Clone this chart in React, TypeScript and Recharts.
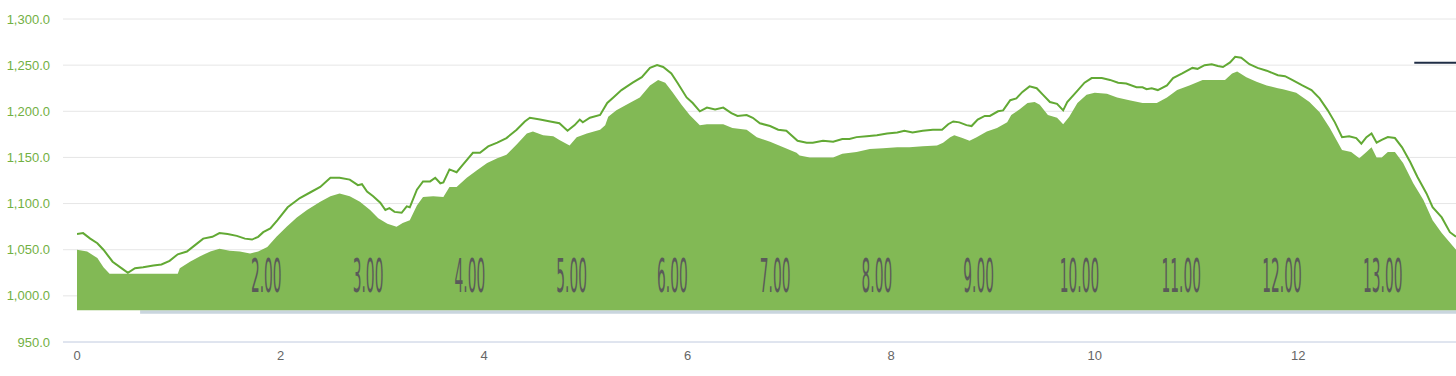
import React from 'react';
import {
  ComposedChart,
  Area,
  Line,
  XAxis,
  YAxis,
  CartesianGrid,
  ReferenceArea,
  ReferenceLine,
  ReferenceDot,
} from 'recharts';

// upper profile line (km, m)
const lineKm = [
  0, 0.06, 0.13, 0.2, 0.26, 0.35, 0.45, 0.5, 0.57, 0.65, 0.75, 0.83, 0.91, 0.99, 1.08, 1.16, 1.24, 1.33,
  1.4, 1.48, 1.57, 1.65, 1.72, 1.78, 1.83, 1.9, 1.97, 2.07, 2.19, 2.29, 2.39, 2.49, 2.58, 2.68, 2.76,
  2.8, 2.85, 2.91, 2.98, 3.03, 3.07, 3.12, 3.19, 3.24, 3.27, 3.34, 3.4, 3.47, 3.52, 3.57, 3.6, 3.66,
  3.73, 3.79, 3.89, 3.96, 4.04, 4.13, 4.22, 4.32, 4.4, 4.45, 4.55, 4.65, 4.74, 4.82, 4.89, 4.94, 4.97,
  5.04, 5.14, 5.21, 5.27, 5.35, 5.46, 5.55, 5.63, 5.7, 5.76, 5.84, 5.9, 5.99, 6.05, 6.12, 6.19, 6.27,
  6.35, 6.43, 6.49, 6.58, 6.64, 6.71, 6.81, 6.89, 6.97, 7.08, 7.17, 7.23, 7.33, 7.43, 7.52, 7.59, 7.66,
  7.76, 7.86, 7.96, 8.06, 8.13, 8.21, 8.31, 8.41, 8.5, 8.56, 8.61, 8.67, 8.74, 8.79, 8.85, 8.92, 8.97,
  9.05, 9.1, 9.17, 9.23, 9.29, 9.36, 9.43, 9.49, 9.56, 9.63, 9.69, 9.73, 9.82, 9.9, 9.97, 10.07, 10.15,
  10.23, 10.31, 10.41, 10.47, 10.51, 10.56, 10.62, 10.71, 10.77, 10.86, 10.96, 11.01, 11.08, 11.15,
  11.21, 11.26, 11.33, 11.38, 11.44, 11.52, 11.6, 11.69, 11.8, 11.87, 11.94, 12.04, 12.13, 12.21,
  12.29, 12.36, 12.43, 12.5, 12.57, 12.62, 12.67, 12.72, 12.77, 12.82, 12.88, 12.95, 13.02, 13.1,
  13.17, 13.26, 13.32, 13.41, 13.49, 13.55,
];
const lineElev = [
  1067, 1068, 1062, 1057, 1050, 1037, 1029, 1025, 1030, 1031, 1033, 1034, 1038, 1045, 1048, 1055, 1062, 1064,
  1068, 1067, 1065, 1062, 1061, 1064, 1069, 1073, 1082, 1096, 1106, 1112, 1118, 1128, 1128, 1126, 1120,
  1121, 1113, 1108, 1101, 1093, 1095, 1091, 1090, 1097, 1096, 1115, 1124, 1124, 1128, 1122, 1123, 1137,
  1134, 1142, 1155, 1155, 1162, 1166, 1171, 1180, 1189, 1193, 1191, 1189, 1187, 1179, 1185, 1191, 1188,
  1193, 1196, 1209, 1215, 1223, 1231, 1237, 1247, 1250, 1248, 1241, 1231, 1215, 1209, 1200, 1204, 1202,
  1204, 1198, 1195, 1196, 1193, 1187, 1184, 1180, 1179, 1168, 1166, 1166, 1168, 1167, 1170, 1170, 1172,
  1173, 1174, 1176, 1177, 1179, 1177, 1179, 1180, 1180, 1186, 1189, 1188, 1185, 1184, 1191, 1195, 1195,
  1200, 1201, 1212, 1214, 1221, 1227, 1225, 1218, 1210, 1208, 1201, 1210, 1221, 1231, 1236, 1236, 1234,
  1231, 1230, 1226, 1226, 1224, 1225, 1223, 1228, 1236, 1241, 1247, 1246, 1250, 1251,
  1249, 1248, 1253, 1259, 1258, 1251, 1247, 1244, 1239, 1238, 1234, 1228, 1223, 1214,
  1201, 1188, 1172, 1173, 1171, 1165, 1172, 1176, 1166, 1169, 1172, 1171, 1161, 1145,
  1129, 1111, 1096, 1085, 1069, 1064,
];

// filled terrain profile (km, m)
const areaKm = [
  0, 0.1, 0.2, 0.26, 0.32, 0.67, 0.99, 1.01, 1.11, 1.21, 1.31, 1.4, 1.5, 1.6, 1.7, 1.78, 1.87, 1.96,
  2.06, 2.16, 2.26, 2.39, 2.49, 2.58, 2.68, 2.78, 2.88, 2.96, 3.05, 3.14, 3.2, 3.27, 3.34, 3.4, 3.5,
  3.6, 3.66, 3.73, 3.83, 3.93, 4.03, 4.13, 4.22, 4.32, 4.42, 4.48, 4.58, 4.68, 4.74, 4.84, 4.91, 5.01,
  5.14, 5.19, 5.22, 5.3, 5.43, 5.53, 5.63, 5.71, 5.78, 5.85, 5.94, 6.02, 6.12, 6.19, 6.35, 6.44, 6.58,
  6.68, 6.81, 6.94, 7.07, 7.1, 7.2, 7.43, 7.52, 7.66, 7.79, 7.92, 8.06, 8.18, 8.31, 8.45, 8.51, 8.58,
  8.62, 8.7, 8.77, 8.84, 8.94, 9.04, 9.14, 9.18, 9.26, 9.34, 9.41, 9.46, 9.54, 9.63, 9.69, 9.75, 9.83,
  9.92, 10.0, 10.12, 10.22, 10.34, 10.47, 10.61, 10.71, 10.81, 10.93, 11.06, 11.2, 11.28, 11.35, 11.4,
  11.49, 11.59, 11.69, 11.8, 11.85, 11.98, 12.11, 12.21, 12.31, 12.43, 12.52, 12.6, 12.67, 12.72,
  12.77, 12.82, 12.88, 12.95, 13.03, 13.13, 13.23, 13.32, 13.41, 13.55,
];
const areaElev = [
  1050, 1048, 1041, 1031, 1024, 1024, 1024, 1030, 1037, 1043, 1048, 1051, 1049, 1048, 1046, 1048, 1053, 1064,
  1075, 1085, 1093, 1102, 1108, 1111, 1108, 1102, 1093, 1084, 1078, 1075, 1079, 1082, 1098, 1107, 1108,
  1107, 1118, 1118, 1128, 1136, 1144, 1149, 1153, 1164, 1176, 1178, 1174, 1173, 1169, 1163, 1172, 1176,
  1180, 1185, 1194, 1201, 1209, 1215, 1228, 1234, 1231, 1221, 1207, 1196, 1185, 1186, 1186, 1182, 1180,
  1172, 1167, 1161, 1155, 1152, 1150, 1150, 1154, 1156, 1159, 1160, 1161, 1161, 1162, 1163, 1166, 1172,
  1174, 1171, 1168, 1172, 1178, 1182, 1188, 1196, 1202, 1209, 1210, 1207, 1196, 1193, 1186, 1194, 1209,
  1218, 1220, 1219, 1215, 1212, 1209, 1209, 1215, 1223, 1228, 1234, 1234, 1234, 1241, 1243,
  1237, 1232, 1228, 1225, 1224, 1220, 1210, 1199, 1182, 1158, 1156, 1149, 1156, 1161,
  1150, 1150, 1156, 1156, 1144, 1122, 1104, 1082, 1068, 1050,
];

// hour markers printed inside the profile
const hourLabels = ['2.00', '3.00', '4.00', '5.00', '6.00', '7.00', '8.00', '9.00', '10.00', '11.00', '12.00', '13.00'];
const hourKm = [1.86, 2.86, 3.86, 4.86, 5.85, 6.86, 7.86, 8.86, 9.85, 10.85, 11.84, 12.83];

const yTicks = [950, 1000, 1050, 1100, 1150, 1200, 1250, 1300];
const xTicks = [0, 2, 4, 6, 8, 10, 12];

const lineData = lineKm.map((km, i) => ({ km, elev: lineElev[i] }));
const areaData = areaKm.map((km, i) => ({ km, elev: areaElev[i] }));

const fmt = (v: number) =>
  v.toLocaleString('en-US', { minimumFractionDigits: 1, maximumFractionDigits: 1 });

// squeezed gray hour text, like the original image overlay
const HourText = (label: string) => (props: any) => (
  <text
    transform={`translate(${props.cx},${props.cy}) scale(0.3,1)`}
    textAnchor="middle"
    fontSize={46}
    fontFamily="DejaVu Sans"
    fill="#5a5a5a"
  >
    {label}
  </text>
);

export default function App() {
  return (
    <div style={{ position: 'absolute', left: 0, top: 0, fontFamily: '"Liberation Sans", Arial, sans-serif' }}>
      <ComposedChart width={1456} height={376} margin={{ top: 19, right: 0, bottom: 0, left: 0 }}>
        <CartesianGrid vertical={false} stroke="#e6e6e6" />
        <XAxis
          dataKey="km"
          type="number"
          domain={[0, 13.55]}
          allowDataOverflow
          ticks={xTicks}
          padding={{ left: 14, right: 0 }}
          height={34}
          tickLine={false}
          tickSize={0}
          tickMargin={9}
          axisLine={{ stroke: '#ccd6eb' }}
          tick={{ fill: '#666666', fontSize: 13 }}
        />
        <YAxis
          type="number"
          domain={[950, 1300]}
          ticks={yTicks}
          width={63}
          axisLine={false}
          tickLine={false}
          tickSize={0}
          tickMargin={13}
          tickFormatter={fmt}
          tick={{ fill: '#72b043', fontSize: 13 }}
        />
        <ReferenceArea x1={0.62} x2={13.55} y1={980.5} y2={984.5} fill="#c9d5de" fillOpacity={1} stroke="none" />
        <Area
          data={areaData}
          dataKey="elev"
          type="linear"
          baseValue={984.5}
          fill="#82b955"
          fillOpacity={1}
          stroke="none"
          isAnimationActive={false}
        />
        <Line
          data={lineData}
          dataKey="elev"
          type="linear"
          stroke="#62a934"
          strokeWidth={2}
          dot={false}
          isAnimationActive={false}
        />
        {hourLabels.map((label, i) => (
          <ReferenceDot key={label} x={hourKm[i]} y={1004} r={1} shape={HourText(label)} />
        ))}
        <ReferenceLine
          segment={[{ x: 13.14, y: 1252.5 }, { x: 13.55, y: 1252.5 }]}
          stroke="#1f2d45"
          strokeWidth={2}
        />
      </ComposedChart>
    </div>
  );
}
